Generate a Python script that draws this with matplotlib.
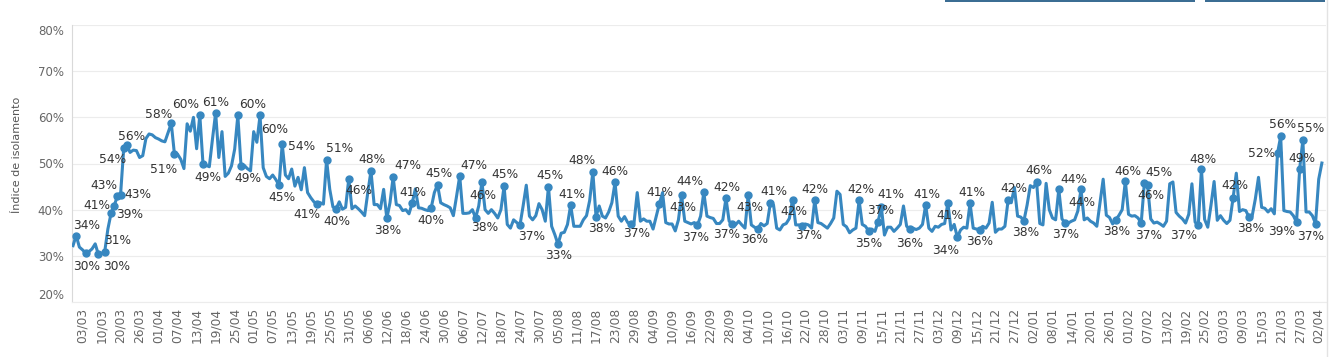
import numpy as np
import matplotlib
matplotlib.use("Agg")
import matplotlib.pyplot as plt
from matplotlib.patches import Rectangle
from matplotlib.lines import Line2D

# ------------------------------------------------------------------ #
#  Data  (índice diário de isolamento, %)
# ------------------------------------------------------------------ #
isolamento = [
    32.2, 34.4, 31.9, 31.3, 30.6, 30.9, 31.5, 32.6, 30.3, 30.5,
    30.9, 35.8, 39.2, 40.9, 42.9, 43.2, 53.3, 54.0, 52.4, 52.9,
    52.8, 51.3, 51.7, 55.4, 56.4, 56.2, 55.6, 55.3, 54.9, 54.7,
    56.7, 58.7, 52.0, 52.0, 50.9, 48.9, 58.6, 57.0, 60.0, 53.2,
    60.5, 50.0, 49.6, 49.3, 55.3, 61.0, 51.3, 56.9, 47.2, 47.9,
    49.5, 53.1, 60.4, 49.5, 49.6, 48.9, 48.4, 56.9, 54.6, 60.4,
    49.1, 47.2, 46.7, 47.5, 46.5, 45.3, 54.2, 47.5, 46.7, 48.8,
    45.1, 47.0, 44.3, 49.1, 43.7, 42.6, 41.7, 41.2, 41.5, 41.2,
    50.8, 44.4, 40.6, 40.2, 41.7, 40.1, 40.5, 46.7, 40.2, 40.8,
    40.2, 39.5, 38.7, 43.7, 48.4, 41.1, 41.1, 40.2, 44.4, 38.1,
    41.5, 47.1, 41.1, 40.9, 39.8, 40.0, 39.1, 41.4, 44.5, 40.4,
    40.3, 40.0, 39.8, 40.4, 43.7, 45.4, 41.5, 41.1, 40.8, 40.4,
    38.7, 42.9, 47.3, 39.2, 39.2, 39.3, 40.0, 38.2, 40.8, 46.0,
    40.0, 39.2, 40.0, 39.2, 38.2, 40.0, 45.1, 36.8, 36.0, 37.8,
    37.2, 36.6, 40.8, 45.3, 38.6, 37.8, 38.7, 41.3, 40.0, 37.5,
    45.0, 36.4, 34.6, 32.5, 34.9, 35.1, 36.8, 41.0, 36.4, 36.4,
    36.4, 37.8, 38.7, 42.0, 48.2, 38.5, 40.8, 38.6, 38.2, 39.5,
    41.5, 45.9, 38.6, 37.5, 38.5, 37.2, 36.9, 37.2, 43.7, 37.5,
    38.0, 37.5, 37.5, 35.8, 38.6, 41.3, 43.7, 37.2, 36.9, 36.9,
    35.4, 37.8, 43.1, 37.5, 37.2, 36.9, 37.2, 36.6, 38.6, 43.8,
    38.6, 38.3, 38.1, 37.0, 37.0, 37.8, 42.5, 37.5, 36.9, 36.7,
    37.5, 36.7, 36.0, 43.1, 36.7, 36.2, 35.8, 37.0, 36.5, 37.0,
    41.4, 41.0, 36.0, 35.6, 36.7, 37.0, 38.1, 42.2, 36.7, 36.7,
    36.5, 36.9, 36.7, 36.0, 42.0, 37.2, 37.0, 36.5, 36.0, 37.0,
    38.2, 44.0, 43.3, 36.8, 36.3, 35.0, 35.6, 36.0, 42.0, 36.8,
    36.4, 35.4, 35.8, 35.3, 37.4, 40.6, 34.5, 36.2, 36.2, 35.3,
    36.0, 36.8, 40.8, 36.4, 35.8, 36.0, 35.7, 36.0, 36.8, 41.0,
    36.0, 35.3, 36.4, 36.2, 36.8, 37.0, 41.5, 35.6, 36.8, 34.0,
    35.6, 36.2, 36.0, 41.4, 36.0, 35.8, 35.7, 36.4, 36.0, 37.1,
    41.6, 35.1, 35.8, 35.8, 36.4, 42.0, 41.5, 44.8, 38.6, 38.4,
    37.6, 41.0, 45.2, 44.8, 46.0, 37.0, 36.7, 45.7, 40.0, 38.2,
    37.8, 44.4, 38.0, 37.1, 37.1, 37.5, 37.8, 39.7, 44.4, 37.8,
    38.2, 37.5, 37.1, 36.4, 41.5, 46.6, 38.8, 38.3, 36.9, 37.8,
    38.8, 40.0, 46.2, 39.0, 38.6, 38.7, 38.2, 37.1, 45.8, 45.3,
    38.0, 37.1, 37.3, 36.9, 36.4, 37.5, 45.6, 46.0, 39.4, 38.6,
    38.0, 37.1, 39.0, 45.6, 37.3, 36.6, 48.8, 37.9, 36.2, 40.9,
    46.1, 37.7, 38.7, 37.7, 37.0, 37.7, 42.6, 47.9, 39.6, 40.0,
    39.8, 38.4, 38.6, 42.3, 47.0, 40.5, 40.3, 39.5, 40.2, 39.1,
    52.2, 55.9, 39.8, 39.6, 39.5, 38.7, 37.3, 48.9, 55.1, 39.5,
    39.5, 38.7, 37.0, 46.6, 50.1,
]

datas_ticks = [
    "03/03", "10/03", "20/03", "26/03", "01/04", "07/04", "13/04", "19/04",
    "25/04", "01/05", "07/05", "13/05", "19/05", "25/05", "31/05", "06/06",
    "12/06", "18/06", "24/06", "30/06", "06/07", "12/07", "18/07", "24/07",
    "30/07", "05/08", "11/08", "17/08", "23/08", "29/08", "04/09", "10/09",
    "16/09", "22/09", "28/09", "04/10", "10/10", "16/10", "22/10", "28/10",
    "03/11", "09/11", "15/11", "21/11", "27/11", "03/12", "09/12", "15/12",
    "21/12", "27/12", "02/01", "08/01", "14/01", "20/01", "26/01", "01/02",
    "07/02", "13/02", "19/02", "25/02", "03/03", "09/03", "15/03", "21/03",
    "27/03", "02/04",
]
# first labelled category and step between labels
TICK_START, TICK_STEP = 3, 6

# labelled points (índice do ponto, texto do rótulo)
rotulo_idx = [1, 4, 8, 10, 12, 13, 14, 15, 16, 17, 31, 32, 40, 41, 45, 52,
              53, 59, 65, 66, 77, 80, 83, 87, 94, 99, 101, 107, 113, 115,
              122, 127, 129, 136, 141, 150, 153, 157, 164, 165, 171, 176,
              185, 192, 197, 199, 206, 208, 213, 216, 220, 227, 230, 234,
              248, 251, 254, 255, 264, 269, 276, 279, 283, 286, 295, 300,
              304, 311, 313, 318, 329, 332, 337, 338, 339, 355, 356, 366,
              371, 380, 381, 386, 387, 388, 392]
rotulo_txt = ["34%", "30%", "30%", "31%", "39%", "41%", "43%", "43%", "54%",
              "56%", "58%", "51%", "60%", "49%", "61%", "60%", "49%", "60%",
              "45%", "54%", "41%", "51%", "40%", "46%", "48%", "38%", "47%",
              "41%", "40%", "45%", "47%", "38%", "46%", "45%", "37%", "45%",
              "33%", "41%", "48%", "38%", "46%", "37%", "41%", "43%", "37%",
              "44%", "42%", "37%", "43%", "36%", "41%", "42%", "37%", "42%",
              "42%", "35%", "37%", "41%", "36%", "41%", "41%", "34%", "41%",
              "36%", "42%", "38%", "46%", "44%", "37%", "44%", "38%", "46%",
              "37%", "46%", "45%", "37%", "48%", "42%", "38%", "52%", "56%",
              "39%", "49%", "55%", "37%"]

# label placement relative to its point (pixels, y up)
rotulo_off = [(10, 10), (1, -13), (18, -12), (13, 11), (19, -1), (-17, 0),
              (-14, 11), (17, 0), (-11, -11), (5, 9), (-13, 9), (-11, -15),
              (-14, 11), (5, -14), (0, 10), (15, 11), (7, -13), (15, -14),
              (3, -12), (19, -2), (-10, -10), (13, 11), (1, -13), (10, -12),
              (1, 11), (1, -12), (15, 11), (1, 11), (0, -13), (1, 11),
              (14, 10), (9, -10), (1, -14), (1, 12), (12, -11), (1, 11),
              (1, -11), (1, 11), (-11, 11), (6, -12), (0, 11), (6, -10),
              (0, 11), (1, -12), (-2, -12), (-14, 11), (1, 11), (-6, -11),
              (2, -12), (-3, -10), (4, 12), (1, -12), (7, -10), (0, 11),
              (2, 11), (0, -13), (2, 11), (10, 12), (0, -14), (1, 11),
              (2, -13), (-12, -13), (2, 11), (0, -12), (6, 12), (2, -12),
              (2, 11), (15, 10), (0, -11), (1, -13), (1, -12), (3, 10),
              (7, -12), (6, -13), (11, 13), (-15, -10), (2, 10), (2, 12),
              (2, -11), (-16, 0), (2, 12), (-15, -9), (2, 10), (8, 11),
              (-5, -13)]

# ------------------------------------------------------------------ #
#  Figure
# ------------------------------------------------------------------ #
W, H = 1339, 357
AZUL = "#3787c0"
CINZA = "#666666"

fig = plt.figure(figsize=(W / 100, H / 100), dpi=100)
ax = fig.add_axes([72 / W, 1 - 302 / H, (1326 - 72) / W, (302 - 25) / H])

x = np.arange(len(isolamento))
ax.plot(x, isolamento, color=AZUL, lw=2.2, solid_joinstyle="round", zorder=3)

vals = [isolamento[i] for i in rotulo_idx]
ax.plot(rotulo_idx, vals, "o", ms=5, color=AZUL, zorder=4)

for i, txt, (dx, dy) in zip(rotulo_idx, rotulo_txt, rotulo_off):
    ax.annotate(txt, (i, isolamento[i]), xytext=(dx, dy),
                textcoords="offset pixels", ha="center", va="center",
                fontsize=8.8, color="#333333", zorder=5,
                annotation_clip=False)

ax.set_xlim(-0.32, 395.3)
ax.set_ylim(20, 80)

yt = list(range(20, 81, 10))
ax.set_yticks(yt)
ax.set_yticklabels([f"{v}%" for v in yt])
ylabs = ax.get_yticklabels()
ylabs[0].set_va("bottom")
ylabs[-1].set_va("top")

tick_pos = [TICK_START + TICK_STEP * k for k in range(len(datas_ticks))]
ax.set_xticks(tick_pos)
ax.set_xticklabels(datas_ticks, rotation=90)

ax.tick_params(axis="y", length=0, pad=6, labelsize=8.5, labelcolor=CINZA)
ax.tick_params(axis="x", length=0, pad=4, labelsize=8.8, labelcolor=CINZA)

ax.yaxis.grid(True, color="#ececec", lw=0.8)
ax.xaxis.grid(False)
ax.set_axisbelow(True)

for s in ("top", "right"):
    ax.spines[s].set_visible(False)
ax.spines["left"].set_color("#d9d9d9")
ax.spines["left"].set_linewidth(0.8)
ax.spines["bottom"].set_color("#ececec")
ax.spines["bottom"].set_linewidth(0.8)

fig.text(17 / W, 1 - 155 / H, "Índice de isolamento", rotation=90,
         ha="center", va="center", fontsize=8, color="#555555")

# top bar edges of the filter buttons and right frame line
for x0, x1 in ((945, 1195), (1205, 1325)):
    fig.add_artist(Rectangle((x0 / W, 1 - 2 / H), (x1 - x0) / W, 2 / H,
                             transform=fig.transFigure, color="#3b6d93",
                             lw=0))
fig.add_artist(Line2D([1327 / W, 1327 / W], [0, 1], transform=fig.transFigure,
                      color="#e3e3e3", lw=1))

fig.savefig("out.png", dpi=100)
